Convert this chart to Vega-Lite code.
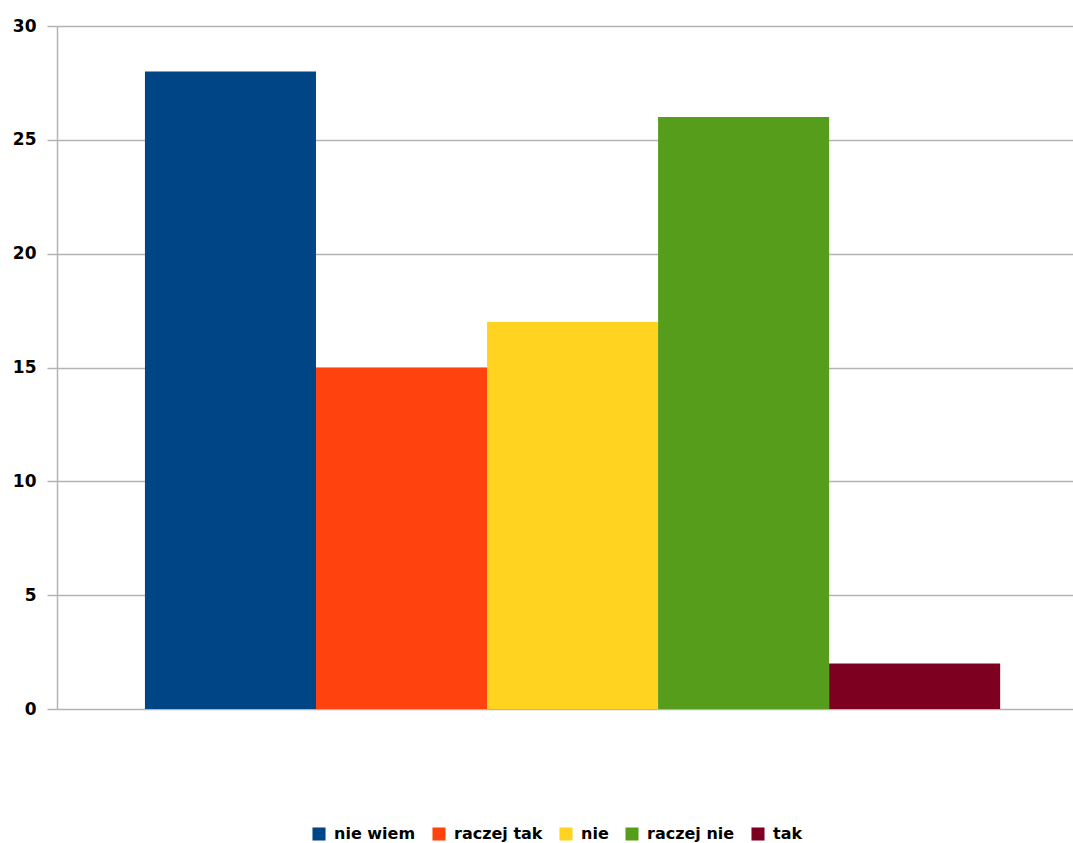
{
  "$schema": "https://vega.github.io/schema/vega-lite/v6.json",
  "width": 1016,
  "height": 683,
  "padding": {"left": 12, "top": 17, "right": 0, "bottom": 0},
  "background": "white",
  "config": {"view": {"stroke": null}},
  "data": {"values": [
    {"answer": "nie wiem", "count": 28},
    {"answer": "raczej tak", "count": 15},
    {"answer": "nie", "count": 17},
    {"answer": "raczej nie", "count": 26},
    {"answer": "tak", "count": 2}
  ]},
  "mark": {"type": "bar"},
  "encoding": {
    "x": {
      "field": "answer", "type": "nominal",
      "sort": ["nie wiem", "raczej tak", "nie", "raczej nie", "tak"],
      "scale": {"paddingInner": 0, "paddingOuter": 0.47, "align": 0.547},
      "axis": null
    },
    "y": {
      "field": "count", "type": "quantitative",
      "scale": {"domain": [0, 30], "nice": false},
      "axis": {
        "values": [0, 5, 10, 15, 20, 25, 30],
        "title": null,
        "grid": true, "gridColor": "#b3b3b3", "gridWidth": 1.5,
        "domainColor": "#b3b3b3", "domainWidth": 1.5,
        "tickColor": "#b3b3b3", "tickSize": 10, "tickWidth": 1.5,
        "labelFont": "DejaVu Sans", "labelFontWeight": "bold", "labelFontSize": 17,
        "labelColor": "black", "labelPadding": 11
      }
    },
    "color": {
      "field": "answer", "type": "nominal",
      "sort": ["nie wiem", "raczej tak", "nie", "raczej nie", "tak"],
      "scale": {
        "domain": ["nie wiem", "raczej tak", "nie", "raczej nie", "tak"],
        "range": ["#004586", "#ff420e", "#ffd320", "#579d1c", "#7e0021"]
      },
      "legend": {
        "orient": "none", "legendX": 254, "legendY": 800,
        "direction": "horizontal", "title": null,
        "symbolType": "square", "symbolSize": 170,
        "symbolStrokeWidth": 0, "symbolOpacity": 1,
        "labelFont": "DejaVu Sans", "labelFontWeight": "bold", "labelFontSize": 16,
        "labelColor": "black", "columnPadding": 15, "labelOffset": 7
      }
    }
  }
}
